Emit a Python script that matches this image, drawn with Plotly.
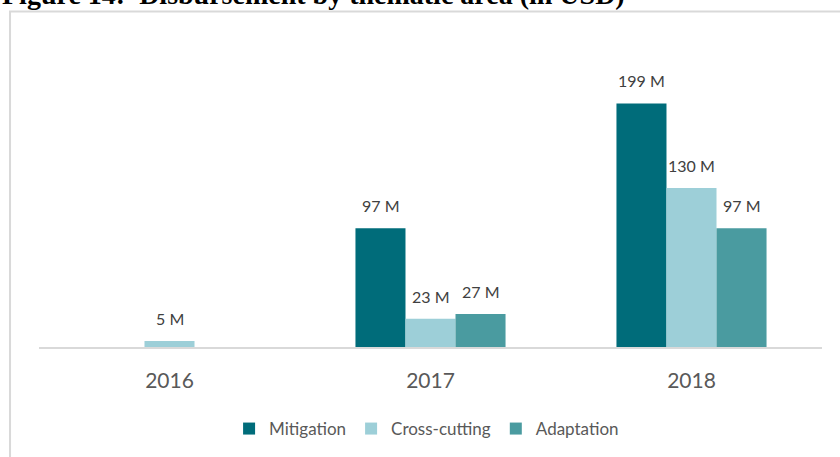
import plotly.graph_objects as go

# Disbursement by thematic area, USD millions
years = ["2016", "2017", "2018"]
mitigation = [None, 97, 199]
cross_cutting = [5, 23, 130]
adaptation = [None, 27, 97]

series_names = ["Mitigation", "Cross-cutting", "Adaptation"]
series_values = [mitigation, cross_cutting, adaptation]
series_colors = ["#006C7A", "#9DCFD8", "#4A9BA0"]

FONT = "Lato"
LABEL_COLOR = "#404040"
AXIS_TEXT = "#595959"

fig = go.Figure()
for name, vals, col in zip(series_names, series_values, series_colors):
    fig.add_trace(go.Bar(
        x=years, y=vals, name=name,
        marker=dict(color=col, line=dict(width=0)),
    ))

# Value labels above each bar, offset horizontally to its slot in the group
bar_px = 50
for i, vals in enumerate(series_values):
    offset = (i - 1) * bar_px
    for j, v in enumerate(vals):
        if v is None:
            continue
        fig.add_annotation(
            x=j, y=v, xref="x", yref="y",
            text=f"{v} M", showarrow=False,
            xshift=offset, yshift=11, yanchor="bottom",
            font=dict(family=FONT, size=16, color=LABEL_COLOR),
        )

# Figure caption above the framed chart
fig.add_annotation(
    xref="paper", yref="paper", x=-0.0498, y=1.094,
    xanchor="left", yanchor="bottom", showarrow=False,
    text="<b>Figure 14:  Disbursement by thematic area (in USD)</b>",
    font=dict(family="Liberation Serif", size=28, color="#000000"),
)

# Frame around the chart body
fig.add_shape(
    type="rect", xref="paper", yref="paper",
    x0=-0.0370, x1=1.2, y0=-0.6, y1=1.096,
    line=dict(color="#D9D9D9", width=2), fillcolor="rgba(0,0,0,0)",
    layer="below",
)

fig.update_layout(
    width=840, height=457,
    margin=dict(l=39, r=18, t=41, b=110, autoexpand=False),
    paper_bgcolor="white", plot_bgcolor="white",
    barmode="group", bargap=0.425, bargroupgap=0,
    showlegend=True,
    legend=dict(
        orientation="h", x=0.495, xanchor="center",
        y=-0.268, yanchor="middle",
        font=dict(family=FONT, size=17, color=AXIS_TEXT),
        traceorder="normal",
    ),
    font=dict(family=FONT, color=AXIS_TEXT),
    xaxis=dict(
        type="category", categoryorder="array", categoryarray=years,
        range=[-0.5, 2.5], autorange=False,
        showline=True, linecolor="#D9D9D9", linewidth=1.5,
        ticks="", showgrid=False, zeroline=False,
        tickfont=dict(family=FONT, size=21, color=AXIS_TEXT),
        ticklabelstandoff=14,
    ),
    yaxis=dict(
        range=[0, 250], visible=False, showgrid=False, zeroline=False,
    ),
)

fig.write_html("out.html")
